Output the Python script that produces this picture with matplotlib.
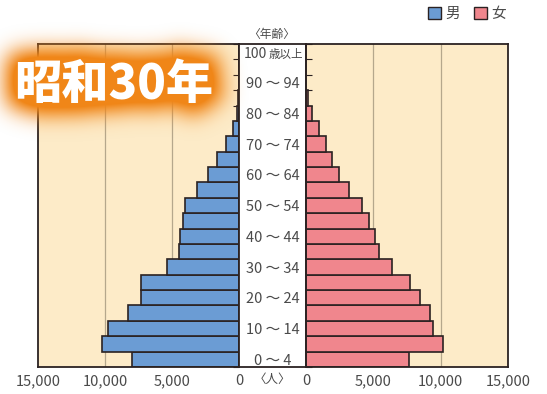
import numpy as np
import matplotlib
matplotlib.use("Agg")
import matplotlib.pyplot as plt
from matplotlib.patches import Patch
from matplotlib import patheffects as pe

plt.rcParams['font.family'] = ['Noto Sans CJK JP', 'DejaVu Sans']

# Age groups from youngest to oldest
age_groups = ["0～4", "5～9", "10～14", "15～19", "20～24", "25～29", "30～34",
              "35～39", "40～44", "45～49", "50～54", "55～59", "60～64", "65～69",
              "70～74", "75～79", "80～84", "85～89", "90～94", "95～99", "100歳以上"]
male = [8000, 10200, 9800, 8300, 7350, 7350, 5400, 4500, 4400, 4150, 4000,
        3100, 2300, 1650, 970, 480, 150, 40, 10, 0, 0]
female = [7650, 10150, 9450, 9200, 8500, 7700, 6400, 5400, 5100, 4650, 4150,
          3200, 2450, 1950, 1470, 1000, 450, 150, 30, 0, 0]
axis_ticks = [0, 5000, 10000, 15000]
axis_tick_text = ["0", "5,000", "10,000", "15,000"]
center_labels = ["0 ～ 4", "10 ～ 14", "20 ～ 24", "30 ～ 34", "40 ～ 44",
                 "50 ～ 54", "60 ～ 64", "70 ～ 74", "80 ～ 84", "90 ～ 94"]
top_label_num = "100"
top_label_suffix = "歳以上"
title = "昭和30年"
legend_labels = ["男", "女"]

W, H, DPI = 5.47, 3.94, 100
PW, PH = 547, 394
BLUE = "#6b9cd4"
PINK = "#f0868d"
EDGE = "#2b2222"
CREAM = "#fdebc8"
GRID = "#b5a78c"
TXT = "#4a4a4a"


def fx(px):
    return px / PW


def fy(py):
    return 1 - py / PH


fig = plt.figure(figsize=(W, H), dpi=DPI)
fig.patch.set_facecolor("white")

top, bottom = 44, 367
ax_h = (bottom - top) / PH
ax_y = fy(bottom)
axL = fig.add_axes([fx(38), ax_y, fx(239 - 38), ax_h])
axC = fig.add_axes([fx(239), ax_y, fx(306 - 239), ax_h])
axR = fig.add_axes([fx(306), ax_y, fx(508 - 306), ax_h])

y = np.arange(len(age_groups))
n = len(age_groups)

for ax, vals, color, side in [(axL, male, BLUE, "L"), (axR, female, PINK, "R")]:
    ax.set_facecolor(CREAM)
    ax.set_axisbelow(True)
    ax.barh(y, vals, height=1.0, color=color, edgecolor=EDGE, linewidth=1.2, zorder=2)
    for g in (5000, 10000):
        ax.axvline(g, color=GRID, lw=0.9, zorder=0.5)
    ax.set_ylim(-0.5, n - 0.5)
    if side == "L":
        ax.set_xlim(15000, 0)
    else:
        ax.set_xlim(0, 15000)
    ax.set_xticks(axis_ticks, axis_tick_text)
    ax.tick_params(axis="x", length=0, pad=5, labelsize=10.5, labelcolor=TXT)
    ax.set_yticks([])
    ax.set_yticks(np.arange(n + 1) - 0.5, minor=True)
    if side == "L":
        ax.tick_params(axis="y", which="minor", left=False, right=True,
                       direction="in", length=4, color=EDGE, width=0.8)
    else:
        ax.tick_params(axis="y", which="minor", left=True, right=False,
                       direction="in", length=4, color=EDGE, width=0.8)
    for s in ax.spines.values():
        s.set_color(EDGE)
        s.set_linewidth(1.3)

# Centre column with the age labels
axC.set_facecolor("white")
axC.set_xlim(0, 1)
axC.set_ylim(-0.5, n - 0.5)
axC.set_xticks([])
axC.set_yticks([])
for s in axC.spines.values():
    s.set_color(EDGE)
    s.set_linewidth(1.3)
for i, lab in enumerate(center_labels):
    axC.text(0.5, 2 * i - 0.1, lab, ha="center", va="center", fontsize=10.5, color=TXT)
axC.text(0.42, n - 1 - 0.15, top_label_num, ha="right", va="center", fontsize=10, color=TXT)
axC.text(0.445, n - 1 - 0.15, top_label_suffix, ha="left", va="center", fontsize=8.3, color=TXT)

fig.text(fx(272), fy(34), "〈年齢〉", ha="center", va="center", fontsize=8.5, color=TXT)
fig.text(fx(272), fy(379), "〈人〉", ha="center", va="center", fontsize=9, color=TXT)

fig.legend(handles=[Patch(facecolor=BLUE, edgecolor=EDGE, linewidth=1.0, label=legend_labels[0]),
                    Patch(facecolor=PINK, edgecolor=EDGE, linewidth=1.0, label=legend_labels[1])],
           ncol=2, loc="center", bbox_to_anchor=(fx(467), fy(14)), frameon=False,
           handlelength=0.85, handleheight=0.85, handletextpad=0.3, columnspacing=1.0,
           fontsize=10.5, labelcolor=TXT)

# Title with a soft orange glow
title_kw = dict(x=fx(114), y=fy(85), s=title, ha="center", va="center",
                fontsize=34, fontweight="heavy")


def gaussian_blur(img, sigma):
    r = int(3 * sigma)
    k = np.exp(-0.5 * (np.arange(-r, r + 1) / sigma) ** 2)
    k /= k.sum()
    out = np.apply_along_axis(lambda v: np.convolve(v, k, mode="same"), 1, img)
    out = np.apply_along_axis(lambda v: np.convolve(v, k, mode="same"), 0, out)
    return out


mask_fig = plt.figure(figsize=(W, H), dpi=DPI)
mask_fig.patch.set_alpha(0)
mask_fig.text(color="black", path_effects=[pe.withStroke(linewidth=14, foreground="black")],
              **title_kw)
mask_fig.canvas.draw()
mask = np.asarray(mask_fig.canvas.buffer_rgba())[..., 3].astype(float) / 255
plt.close(mask_fig)

glow = np.clip(gaussian_blur(mask, 11) * 1.45, 0, 1)
rgba = np.zeros(mask.shape + (4,), dtype=np.uint8)
rgba[..., 0] = 240
rgba[..., 1] = 134
rgba[..., 2] = 24
rgba[..., 3] = (glow * 255).astype(np.uint8)
fig.figimage(rgba, 0, 0, zorder=5, origin="upper")

fig.text(color="white", zorder=6, **title_kw)

fig.savefig("out.png", dpi=DPI)
